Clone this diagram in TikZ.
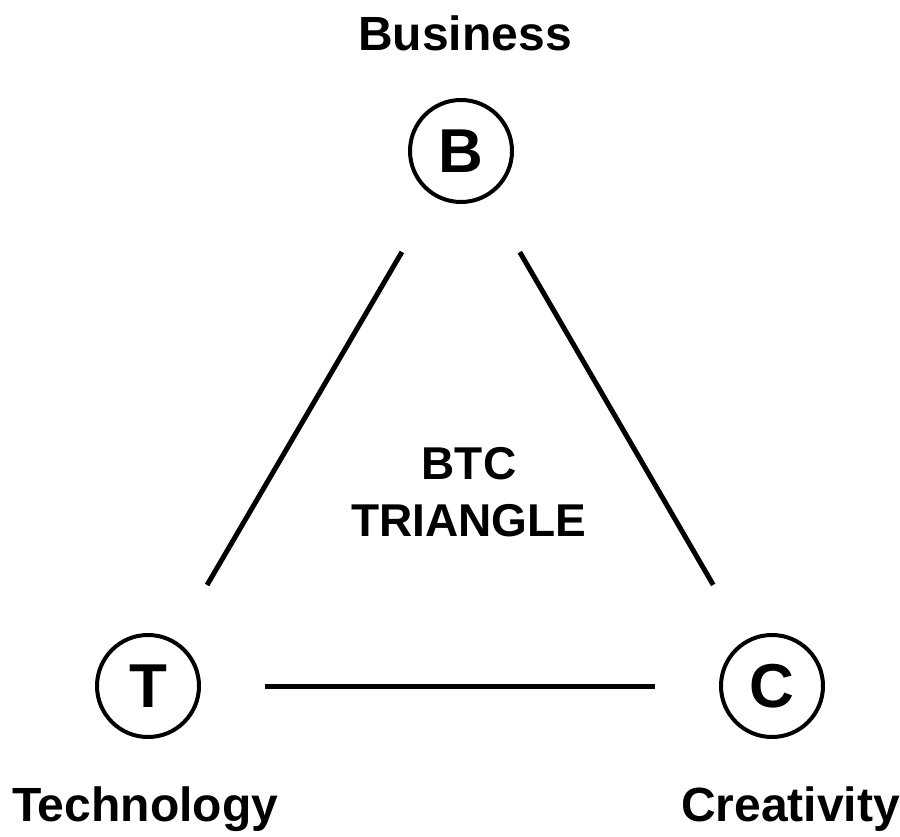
\documentclass[tikz,border=0pt]{standalone}
\usepackage{fontspec}
\setmainfont{Liberation Sans}

\begin{document}
\begin{tikzpicture}[x=1pt,y=-1pt,
  corner/.style={circle,draw,line width=4pt,minimum size=102pt,inner sep=0pt,
    font=\fontsize{62}{62}\selectfont\bfseries},
  caption/.style={inner sep=0pt,font=\fontsize{48}{57}\selectfont\bfseries},
  side/.style={line width=5pt,shorten <=64pt,shorten >=64pt}]
\useasboundingbox (0,0) rectangle (900,837);
\node [corner] (b) at (461,151) {B};
\node [corner] (t) at (148,686) {T};
\node [corner] (c) at (772,686) {C};
\node [caption,anchor=base] (bl) at (465,51) {Business};
\node [caption,anchor=base west] (tl) at (12,821) {Technology};
\node [caption,anchor=base east] (cl) at (900,821) {Creativity};
\node [caption,align=center,font=\fontsize{46}{57}\selectfont\bfseries] (mid) at (469,492) {BTC\\TRIANGLE};
\draw [side] (b) -- (t);
\draw [side] (b) -- (c);
\draw [side] (t) -- (c);
\end{tikzpicture}
\end{document}
